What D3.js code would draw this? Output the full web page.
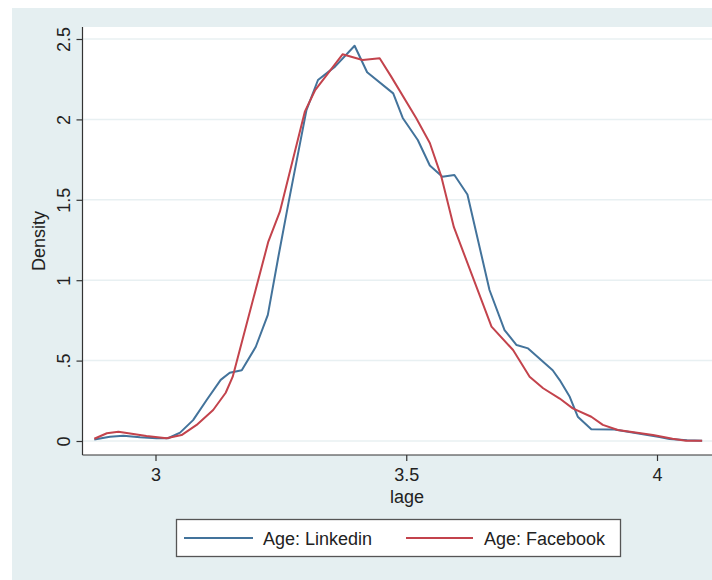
<!DOCTYPE html>
<html><head><meta charset="utf-8">
<script src="https://cdn.jsdelivr.net/npm/d3@7/dist/d3.min.js"></script>
<style>html,body{margin:0;padding:0;background:#fff;}svg{display:block;font-family:"Liberation Sans",Arial,sans-serif;}</style>
</head><body>
<script>
const linkedinAge = [2.878,2.909,2.936,2.969,3.002,3.025,3.049,3.075,3.102,3.130,3.148,3.172,3.200,3.224,3.245,3.265,3.301,3.324,3.358,3.397,3.422,3.474,3.493,3.523,3.547,3.572,3.596,3.622,3.666,3.696,3.720,3.743,3.792,3.806,3.826,3.842,3.869,3.915,4.005,4.025,4.060,4.090];
const linkedinDensity = [0.010,0.027,0.033,0.023,0.017,0.017,0.052,0.130,0.255,0.380,0.425,0.440,0.586,0.784,1.146,1.478,2.058,2.245,2.328,2.458,2.293,2.162,2.009,1.872,1.713,1.644,1.654,1.533,0.939,0.690,0.597,0.576,0.440,0.379,0.275,0.151,0.073,0.071,0.025,0.012,0.004,0.002];
const facebookAge = [2.878,2.903,2.926,2.946,2.982,3.022,3.052,3.082,3.115,3.140,3.154,3.225,3.248,3.298,3.318,3.373,3.413,3.447,3.470,3.520,3.547,3.570,3.595,3.670,3.713,3.746,3.773,3.806,3.832,3.869,3.892,3.922,3.992,4.031,4.058,4.090];
const facebookDensity = [0.014,0.048,0.058,0.048,0.031,0.017,0.037,0.100,0.193,0.300,0.400,1.240,1.426,2.050,2.180,2.405,2.369,2.380,2.266,2.007,1.853,1.644,1.330,0.711,0.566,0.400,0.328,0.264,0.203,0.151,0.100,0.068,0.037,0.014,0.002,0.002];
const xTicks = [3, 3.5, 4];
const xTickLabels = ["3", "3.5", "4"];
const yTicks = [0, 0.5, 1, 1.5, 2, 2.5];
const yTickLabels = ["0", ".5", "1", "1.5", "2", "2.5"];
const seriesNames = ["Age: Linkedin", "Age: Facebook"];
const colors = ["#43739b", "#c3434c"];

const W = 712, H = 580;
const svg = d3.select("body").append("svg").attr("width", W).attr("height", H);
svg.append("rect").attr("x", 12).attr("y", 8).attr("width", W - 12).attr("height", H - 8).attr("fill", "#e5eff1");

const plot = {left: 82.5, top: 27, right: 712, bottom: 455};
svg.append("rect").attr("x", plot.left).attr("y", plot.top).attr("width", plot.right - plot.left).attr("height", plot.bottom - plot.top).attr("fill", "#fff");

const x = d3.scaleLinear().domain([3, 4]).range([155.5, 657]);
const y = d3.scaleLinear().domain([0, 2.5]).range([441, 39]);

// gridlines
svg.append("g").selectAll("line").data(yTicks).join("line")
  .attr("x1", plot.left).attr("x2", plot.right)
  .attr("y1", d => y(d)).attr("y2", d => y(d))
  .attr("stroke", "#e8f0f2").attr("stroke-width", 1.5);

// lines
const series = [
  linkedinAge.map((a, i) => [a, linkedinDensity[i]]),
  facebookAge.map((a, i) => [a, facebookDensity[i]])
];
const line = d3.line().x(d => x(d[0])).y(d => y(d[1]));
series.forEach((s, i) => {
  svg.append("path").datum(s).attr("d", line).attr("fill", "none")
    .attr("stroke", colors[i]).attr("stroke-width", 2).attr("stroke-linejoin", "round");
});

// y axis
const yAxis = d3.axisLeft(y).tickValues(yTicks).tickFormat((d, i) => yTickLabels[i]).tickSize(6).tickPadding(4);
const gy = svg.append("g").attr("transform", `translate(${plot.left},0)`).call(yAxis);
gy.select(".domain").remove();
gy.append("line").attr("x1", 0).attr("x2", 0).attr("y1", plot.top).attr("y2", plot.bottom).attr("stroke", "#333").attr("stroke-width", 1.2);
gy.selectAll(".tick line").attr("stroke", "#333").attr("stroke-width", 1.2);
gy.selectAll(".tick text").attr("font-size", 18).attr("fill", "#222")
  .attr("x", null).attr("y", null).attr("dy", 0)
  .attr("transform", "translate(-13,0) rotate(-90)").attr("text-anchor", "middle");

// x axis
const xAxis = d3.axisBottom(x).tickValues(xTicks).tickFormat((d, i) => xTickLabels[i]).tickSize(6).tickPadding(7);
const gx = svg.append("g").attr("transform", `translate(0,${plot.bottom})`).call(xAxis);
gx.select(".domain").remove();
gx.append("line").attr("x1", plot.left).attr("x2", plot.right).attr("y1", 0).attr("y2", 0).attr("stroke", "#333").attr("stroke-width", 1.2);
gx.selectAll(".tick line").attr("stroke", "#333").attr("stroke-width", 1.2);
gx.selectAll(".tick text").attr("font-size", 18).attr("fill", "#222").attr("dy", 0).attr("y", 26);

// axis titles
svg.append("text").attr("x", 407).attr("y", 503).attr("text-anchor", "middle").attr("font-size", 18).attr("fill", "#222").text("lage");
svg.append("text").attr("transform", `translate(45,241) rotate(-90)`).attr("text-anchor", "middle").attr("font-size", 18).attr("fill", "#222").text("Density");

// legend
const lg = svg.append("g");
lg.append("rect").attr("x", 176.5).attr("y", 519.5).attr("width", 444).attr("height", 37).attr("fill", "#fff").attr("stroke", "#555").attr("stroke-width", 1.3);
const legendItems = [{x1: 184, x2: 253, tx: 263}, {x1: 406, x2: 473, tx: 484}];
legendItems.forEach((it, i) => {
  lg.append("line").attr("x1", it.x1).attr("x2", it.x2).attr("y1", 538).attr("y2", 538).attr("stroke", colors[i]).attr("stroke-width", 2);
  lg.append("text").attr("x", it.tx).attr("y", 545).attr("font-size", 18).attr("fill", "#222").text(seriesNames[i]);
});
</script>
</body></html>
